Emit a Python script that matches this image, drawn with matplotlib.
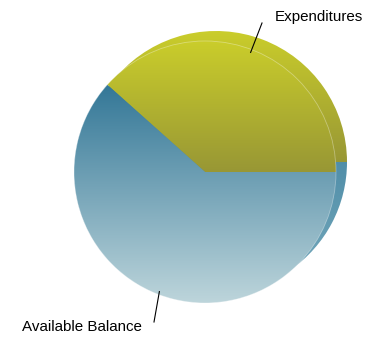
import matplotlib.pyplot as plt
import numpy as np
from matplotlib.colors import LinearSegmentedColormap

labels = ["Expenditures", "Available Balance"]
values = [38.4, 61.6]

# top / bottom colours of the vertical gradient on each slice
front_colors = [("#cacd2b", "#989735"), ("#337797", "#bdd5db")]
back_colors = [("#cacd2b", "#989735"), ("#367b9b", "#78abbd")]

plt.rcParams['font.family'] = ['Liberation Sans', 'DejaVu Sans']

fig = plt.figure(figsize=(3.68, 3.38), dpi=100)
ax = fig.add_axes([0, 0, 1, 1])
W, H = 368, 338

cx, cy, r = 205, 166, 131
shift = (11, 10)


def gradient_pie(center, colors, zorder, edge=False):
    wedges, _ = ax.pie(values, radius=r, center=center, startangle=0,
                       counterclock=True, frame=True,
                       wedgeprops=dict(linewidth=0))
    for w, (top, bottom) in zip(wedges, colors):
        w.set_facecolor("none")
        w.set_zorder(zorder)
        cmap = LinearSegmentedColormap.from_list("g", [bottom, top])
        bb = w.get_path().get_extents(w.get_transform() - ax.transData)
        grad = np.linspace(0, 1, 256).reshape(-1, 1)
        im = ax.imshow(grad, cmap=cmap, origin="lower", aspect="auto",
                       extent=[bb.x0, bb.x1, bb.y0, bb.y1], zorder=zorder,
                       interpolation="bilinear")
        im.set_clip_path(w)
    if edge:
        ring = plt.Circle(center, r, fill=False, ec="white", lw=0.6,
                          alpha=0.35, zorder=zorder + 0.5)
        ax.add_patch(ring)
    return wedges


gradient_pie((cx + shift[0], cy + shift[1]), back_colors, 1)
gradient_pie((cx, cy), front_colors, 2, edge=True)

# leader lines and labels
angles = np.cumsum([0] + values) / sum(values) * 360
mids = np.deg2rad((angles[:-1] + angles[1:]) / 2)

p = (cx + (r - 3) * np.cos(mids[0]), cy + (r - 3) * np.sin(mids[0]))
ax.plot([p[0], 262], [p[1], H - 23], color="black", lw=0.8, zorder=5)
ax.text(275, H - 17, labels[0], fontsize=10.9, ha="left", va="center",
        zorder=5)

p = (cx + (r - 3) * np.cos(mids[1]), cy + (r - 3) * np.sin(mids[1]))
ax.plot([p[0], 154], [p[1], H - 322], color="black", lw=0.8, zorder=5)
ax.text(142, H - 327, labels[1], fontsize=10.9, ha="right", va="center",
        zorder=5)

ax.set_xlim(0, W)
ax.set_ylim(0, H)
ax.set_aspect("equal")
ax.axis("off")

plt.savefig("out.png", dpi=100)
